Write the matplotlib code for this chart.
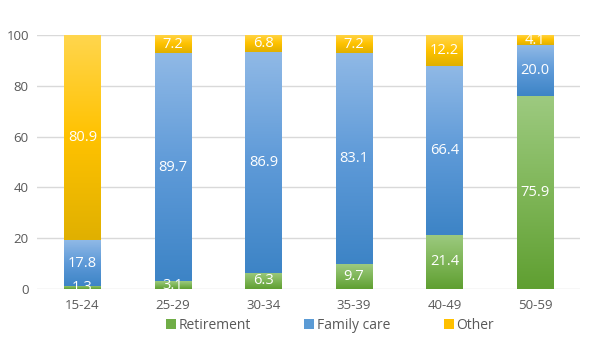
import numpy as np
import matplotlib.pyplot as plt
from matplotlib.colors import LinearSegmentedColormap
from matplotlib.patches import Patch

plt.rcParams["font.family"] = ["Open Sans", "DejaVu Sans"]

ages = ["15-24", "25-29", "30-34", "35-39", "40-49", "50-59"]
retirement = [1.3, 3.1, 6.3, 9.7, 21.4, 75.9]
family_care = [17.8, 89.7, 86.9, 83.1, 66.4, 20.0]
other = [80.9, 7.2, 6.8, 7.2, 12.2, 4.1]

series = [
    ("Retirement", retirement, ["#9DCA80", "#7FB658", "#5F9F31"], "#70AD47"),
    ("Family care", family_care, ["#90B9E6", "#5E9AD8", "#3D84C6"], "#5B9BD5"),
    ("Other", other, ["#FFD64E", "#FFC200", "#E0B000"], "#FFC000"),
]


def gradient_bar(ax, x, bottom, height, width, stops):
    # vertical fill, light at the top and darker towards the base
    cmap = LinearSegmentedColormap.from_list("seg", stops)
    grad = np.linspace(0, 1, 256).reshape(-1, 1)
    ax.imshow(grad, cmap=cmap, origin="upper", aspect="auto",
              interpolation="bicubic", zorder=2,
              extent=[x - width / 2, x + width / 2, bottom, bottom + height])


def main():
    fig = plt.figure(figsize=(6.0, 3.41), dpi=100)
    ax = fig.add_axes([0.062, 0.1525, 0.905, 0.745])
    x = np.arange(len(ages))
    width = 0.4
    base = np.zeros(len(ages))
    handles = []
    for name, vals, stops, solid in series:
        for i, v in enumerate(vals):
            gradient_bar(ax, x[i], base[i], v, width, stops)
            ax.text(x[i], base[i] + v / 2, "%.1f" % v, color="white",
                    ha="center", va="center", fontsize=10.5, zorder=3,
                    clip_on=True)
        base += np.array(vals)
        handles.append(Patch(facecolor=solid, label=name))

    ax.set_xlim(-0.5, len(ages) - 0.5)
    ax.set_ylim(0, 100)
    ax.set_yticks(range(0, 101, 20))
    ax.set_xticks(x)
    ax.set_xticklabels(ages)
    ax.yaxis.grid(True, color="#D9D9D9", linewidth=1)
    ax.set_axisbelow(True)
    for s in ax.spines.values():
        s.set_visible(False)
    ax.tick_params(length=0, colors="#595959", labelsize=9.5, pad=7)
    ax.tick_params(axis="y", pad=6)

    fig.legend(handles=handles, loc="center", bbox_to_anchor=(0.55, 0.045),
               ncol=3, frameon=False, fontsize=10, labelcolor="#595959",
               handlelength=0.7, handleheight=0.7, handletextpad=0.2,
               columnspacing=3.85)
    fig.savefig("out.png", dpi=100)


if __name__ == "__main__":
    main()
